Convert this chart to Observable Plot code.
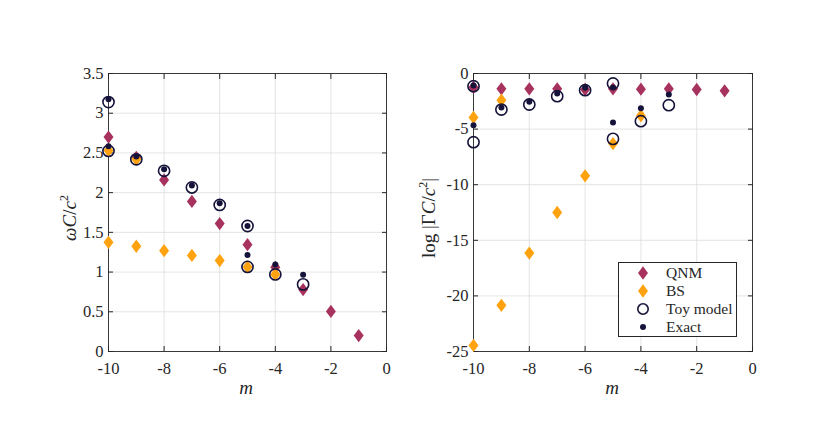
<!DOCTYPE html>
<html>
<head>
<meta charset="utf-8">
<script src="https://cdn.jsdelivr.net/npm/d3@7"></script>
<script src="https://cdn.jsdelivr.net/npm/@observablehq/plot@0.6"></script>
<style>
  body { margin: 0; background: #fff; }
  #wrap { position: relative; width: 830px; height: 440px; background: #fff; font-family: "Liberation Serif", serif; color: #262626; }
  .panel { position: absolute; top: 0; }
  .panel text { font-family: "Liberation Serif", serif !important; }
  .ylab { position: absolute; font-size: 19px; white-space: nowrap; transform: translate(-50%, -50%) rotate(-90deg); }
  .xlab { position: absolute; font-size: 19px; font-style: italic; transform: translate(-50%, -50%); }
  #legend { position: absolute; left: 618px; top: 262px; width: 119px; height: 75px; border: 1px solid #262626; background: #fff; box-sizing: border-box; }
  .lrow { position: absolute; left: 0; height: 18px; font-size: 15.5px; line-height: 18px; white-space: nowrap; }
</style>
</head>
<body>
<div id="wrap"></div>
<script>
// ---------- data ----------
const xTicks = [-10, -8, -6, -4, -2, 0];
const yTicksLeft = [0, 0.5, 1, 1.5, 2, 2.5, 3, 3.5];
const yTicksRight = [-25, -20, -15, -10, -5, 0];

const qnmM = [-10, -9, -8, -7, -6, -5, -4, -3, -2, -1];
const qnmOmega = [2.70, 2.445, 2.16, 1.89, 1.61, 1.345, 1.06, 0.78, 0.505, 0.20];
const qnmLogGamma = [-1.24, -1.38, -1.38, -1.38, -1.44, -1.38, -1.41, -1.38, -1.44, -1.56];

const bsM = [-10, -10, -9, -9, -8, -7, -6, -5, -4];
const bsOmega = [1.375, 2.53, 1.325, 2.42, 1.27, 1.21, 1.145, 1.065, 0.97];
const bsLogGamma = [-24.45, -3.95, -20.85, -2.4, -16.15, -12.5, -9.2, -6.3, -3.8];

const toyM = [-10, -10, -9, -8, -7, -6, -5, -5, -4, -3];
const toyOmega = [3.14, 2.525, 2.42, 2.275, 2.065, 1.845, 1.58, 1.065, 0.97, 0.845];
const toyLogGamma = [-1.14, -6.18, -3.24, -2.79, -2.04, -1.5, -0.9, -5.88, -4.29, -2.85];

const exactM = [-10, -10, -9, -8, -7, -6, -5, -5, -4, -3];
const exactOmega = [3.175, 2.585, 2.455, 2.295, 2.09, 1.865, 1.58, 1.215, 1.095, 0.965];
const exactLogGamma = [-1.08, -4.65, -3.06, -2.55, -1.8, -1.29, -1.26, -4.41, -3.12, -1.89];

const seriesNames = ["QNM", "BS", "Toy model", "Exact"];
const colors = { qnm: "#a8325e", bs: "#ffa20f", navy: "#15133a" };

// ---------- helpers ----------
const zip = (m, v) => m.map((x, i) => ({ m: x, v: v[i] }));
const diamond = {
  draw(context, size) {
    const h = Math.sqrt(size / 1.5), w = 0.75 * h;
    context.moveTo(0, -h); context.lineTo(w, 0); context.lineTo(0, h); context.lineTo(-w, 0); context.closePath();
  }
};
const fmt = d => String(d);
const axisColor = "#262626";

function panel(opts) {
  const { qnm, bs, toy, exact, yDomain, yTicks, marginLeft, marginRight } = opts;
  return Plot.plot({
    width: 415, height: 440,
    marginTop: 73, marginBottom: 89, marginLeft, marginRight,
    style: "font-family: 'Liberation Serif', serif; font-size: 16.5px; color: #262626; background: transparent; overflow: visible;",
    x: { domain: [-10, 0], label: null },
    y: { domain: yDomain, label: null },
    marks: [
      Plot.gridX(xTicks, { stroke: "#d9d9d9", strokeOpacity: 1, strokeWidth: 0.7 }),
      Plot.gridY(yTicks, { stroke: "#d9d9d9", strokeOpacity: 1, strokeWidth: 0.7 }),
      Plot.axisX(xTicks, { anchor: "bottom", tickSize: 0, tickPadding: 11, tickFormat: fmt, fontSize: 16.5, label: null, fill: axisColor }),
      Plot.axisY(yTicks, { anchor: "left", tickSize: 0, tickPadding: 5, tickFormat: fmt, fontSize: 16.5, label: null, fill: axisColor }),
      Plot.axisX(xTicks, { anchor: "bottom", tickSize: -5, tickFormat: () => "", label: null, stroke: axisColor }),
      Plot.axisX(xTicks, { anchor: "top", tickSize: -5, tickFormat: () => "", label: null, stroke: axisColor }),
      Plot.axisY(yTicks, { anchor: "left", tickSize: -5, tickFormat: () => "", label: null, stroke: axisColor }),
      Plot.axisY(yTicks, { anchor: "right", tickSize: -5, tickFormat: () => "", label: null, stroke: axisColor }),
      Plot.frame({ stroke: axisColor, strokeWidth: 0.9 }),
      Plot.dot(qnm, { x: "m", y: "v", symbol: diamond, r: 4.6, fill: colors.qnm, stroke: "none" }),
      Plot.dot(bs, { x: "m", y: "v", symbol: diamond, r: 4.6, fill: colors.bs, stroke: "none" }),
      Plot.dot(toy, { x: "m", y: "v", symbol: "circle", r: 5.6, fill: "none", stroke: colors.navy, strokeWidth: 1.6 }),
      Plot.dot(exact, { x: "m", y: "v", symbol: "circle", r: 3, fill: colors.navy, stroke: "none" })
    ]
  });
}

const wrap = document.getElementById("wrap");

const left = panel({
  qnm: zip(qnmM, qnmOmega), bs: zip(bsM, bsOmega), toy: zip(toyM, toyOmega), exact: zip(exactM, exactOmega),
  yDomain: [0, 3.5], yTicks: yTicksLeft, marginLeft: 108, marginRight: 29
});
left.classList.add("panel"); left.style.left = "0px";
wrap.appendChild(left);

const right = panel({
  qnm: zip(qnmM, qnmLogGamma), bs: zip(bsM, bsLogGamma), toy: zip(toyM, toyLogGamma), exact: zip(exactM, exactLogGamma),
  yDomain: [-25, 0], yTicks: yTicksRight, marginLeft: 58, marginRight: 78
});
right.classList.add("panel"); right.style.left = "415px";
wrap.appendChild(right);

// axis labels
function addLabel(cls, html, x, y) {
  const d = document.createElement("div");
  d.className = cls; d.innerHTML = html;
  d.style.left = x + "px"; d.style.top = y + "px";
  wrap.appendChild(d);
}
addLabel("ylab", '<i>ωC</i>/<i>c</i><sup style="font-size:12px">2</sup>', 69, 218);
addLabel("ylab", 'log |Γ<i>C</i>/<i>c</i><sup style="font-size:12px">2</sup>|', 428, 218);
addLabel("xlab", "m", 246, 388);
addLabel("xlab", "m", 612, 388);

// legend
const legend = document.createElement("div");
legend.id = "legend";
wrap.appendChild(legend);
const legendSymbols = [
  { name: seriesNames[0], kind: "diamond", color: colors.qnm },
  { name: seriesNames[1], kind: "diamond", color: colors.bs },
  { name: seriesNames[2], kind: "ring", color: colors.navy },
  { name: seriesNames[3], kind: "dot", color: colors.navy }
];
legendSymbols.forEach((s, i) => {
  const row = document.createElement("div");
  row.className = "lrow";
  row.style.top = (1 + i * 18) + "px";
  const svg = d3.create("svg").attr("width", 40).attr("height", 18).style("vertical-align", "top");
  const g = svg.append("g").attr("transform", "translate(24,9)");
  if (s.kind === "diamond") g.append("path").attr("d", d3.symbol(diamond, 66)()).attr("fill", s.color);
  else if (s.kind === "ring") g.append("circle").attr("r", 5.2).attr("fill", "none").attr("stroke", s.color).attr("stroke-width", 1.6);
  else g.append("circle").attr("r", 3).attr("fill", s.color);
  row.appendChild(svg.node());
  const t = document.createElement("span");
  t.textContent = s.name;
  t.style.marginLeft = "7px";
  row.appendChild(t);
  legend.appendChild(row);
});
</script>
</body>
</html>
